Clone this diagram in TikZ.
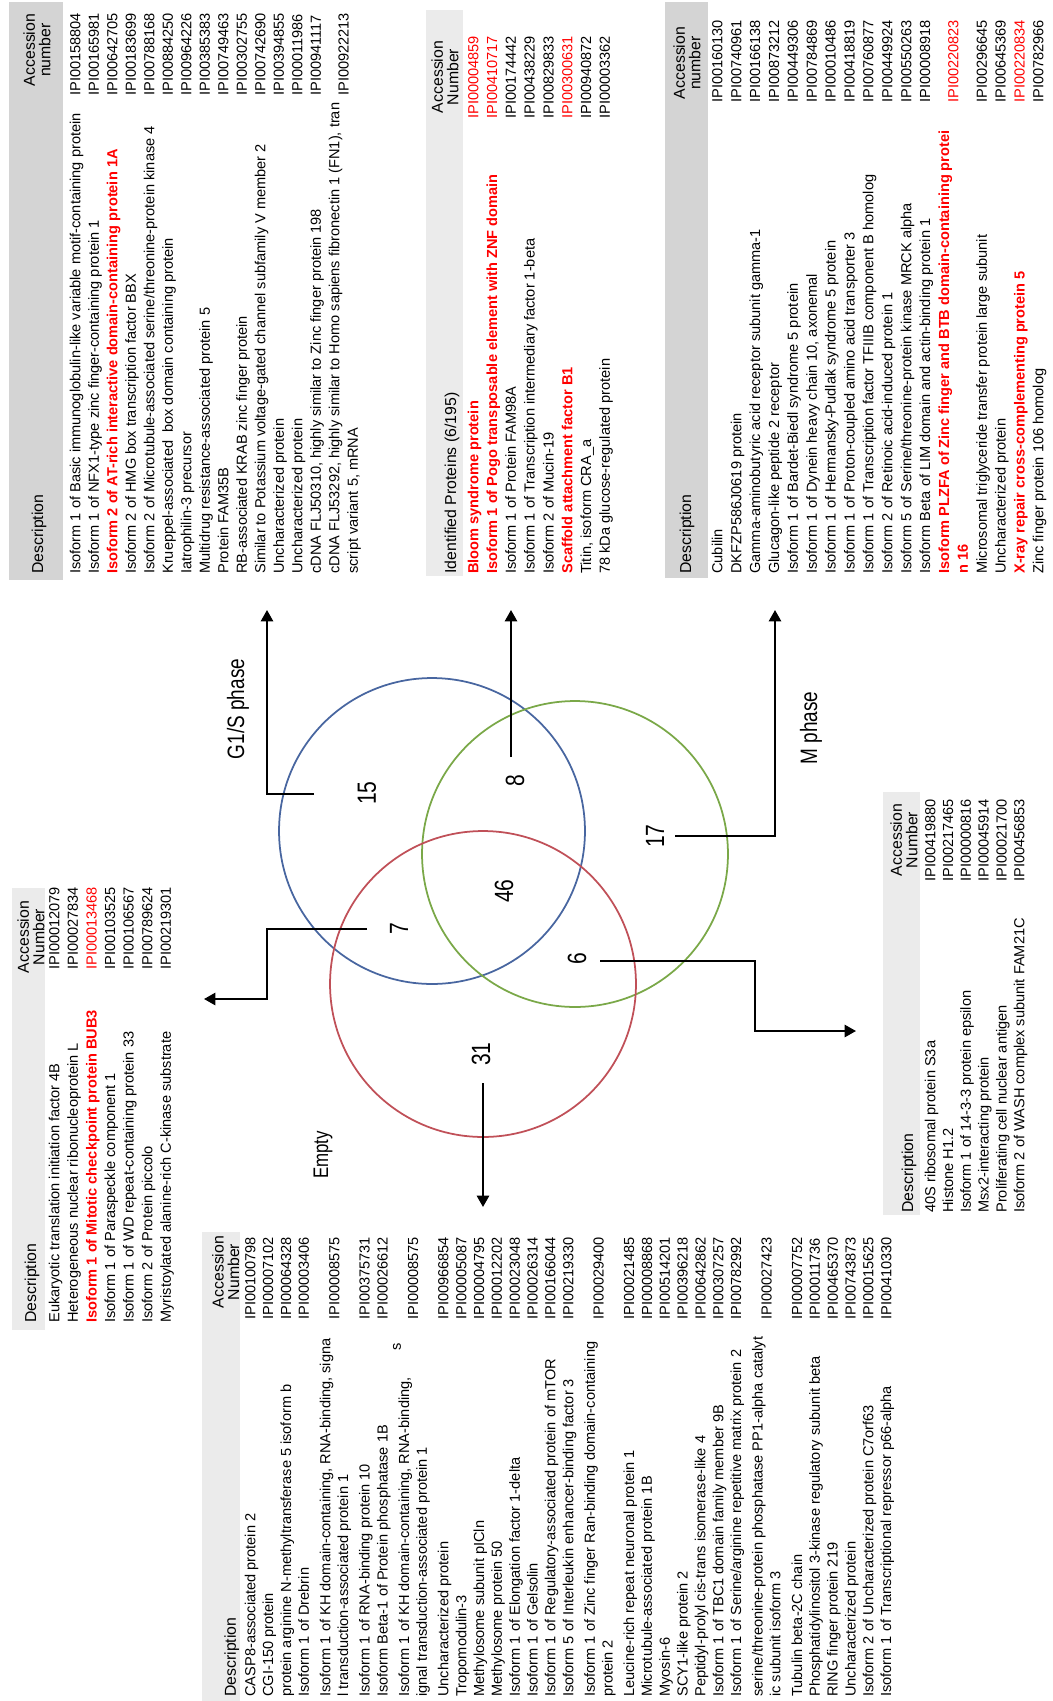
\documentclass[tikz,border=0pt]{standalone}
\usepackage{fontspec}
\setmainfont{Liberation Sans}
\newfontfamily\condfont{Liberation Sans}[FakeStretch=0.8]
\usetikzlibrary{arrows.meta}

\definecolor{hitred}{RGB}{255,0,0}
\definecolor{vennblue}{RGB}{72,102,160}
\definecolor{vennred}{RGB}{192,80,88}
\definecolor{venngreen}{RGB}{122,168,72}

\newcommand{\hit}[1]{\textcolor{hitred}{\bfseries #1}}
\newcommand{\hitnum}[1]{\textcolor{hitred}{#1}}
\newcommand{\rowfont}[1]{\fontsize{8.3pt}{#1}\selectfont}

\begin{document}
\begin{tikzpicture}[x=0.02cm, y=-0.02cm,
    rows/.style={rotate=90, anchor=north west, inner sep=0pt, align=left},
    hdr/.style={rotate=90, inner sep=0pt, align=center, font={\fontsize{9pt}{8.8pt}\selectfont}},
    hdrdesc/.style={rotate=90, anchor=west, inner sep=0pt, font={\fontsize{9pt}{11pt}\selectfont}},
    darkband/.style={fill=black!17},
    liteband/.style={fill=black!8},
    venn/.style={circle, draw, line width=1pt, minimum size=6.12cm, inner sep=0pt},
    vnum/.style={rotate=90, inner sep=1pt, font={\condfont\fontsize{15pt}{15pt}\selectfont}},
    phase/.style={rotate=90, inner sep=1pt, font={\condfont\fontsize{13.5pt}{14pt}\selectfont}},
    conn/.style={line width=1.2pt, -{Triangle[length=6.5pt,width=7pt]}}]
    \useasboundingbox (0,0) rectangle (1053,1701);

    % header bands
    \fill[darkband] (9,2) rectangle (63,580);
    \fill[liteband] (426,10) rectangle (463,576);
    \fill[darkband] (665,2) rectangle (708,578);
    \fill[liteband] (12,888) rectangle (45,1330);
    \fill[liteband] (883,792) rectangle (920,1215);
    \fill[liteband] (202,1232) rectangle (240,1701);

    % G1/S only
    \node[hdr] (accA) at (37,50) {Accession\\number};
    \node[hdrdesc] (hdA) at (39,574) {Description};
    \node[rows, font={\rowfont{10.53pt}}] (descA) at (67,574) {\strut Isoform 1 of Basic immunoglobulin-like variable motif-containing protein\\
        Isoform 1 of NFX1-type zinc finger-containing protein 1\\
        \hit{Isoform 2 of AT-rich interactive domain-containing protein 1A}\\
        Isoform 2 of HMG box transcription factor BBX\\
        Isoform 2 of Microtubule-associated serine/threonine-protein kinase 4\\
        Krueppel-associated\ \ box domain containing protein\\
        Iatrophilin-3 precursor\\
        Multidrug resistance-associated protein 5\\
        Protein FAM35B\\
        RB-associated KRAB zinc finger protein\\
        Similar to Potassium voltage-gated channel subfamily V member 2\\
        Uncharacterized protein\\
        Uncharacterized protein\\
        cDNA FLJ50310, highly similar to Zinc finger protein 198\\
        cDNA FLJ53292, highly similar to Homo sapiens fibronectin 1 (FN1), tran\\
        script variant 5, mRNA};
    \node[rows, font={\rowfont{10.53pt}}] (ipiA) at (67,96) {\strut IPI00158804\\IPI00165981\\IPI00642705\\IPI00183699\\IPI00788168\\
        IPI00884250\\IPI00964226\\IPI00385383\\IPI00749463\\IPI00302755\\IPI00742690\\IPI00394855\\
        IPI00011986\\IPI00941117\\[5.26pt]IPI00922213};

    % G1/S and M
    \node[hdr] (accB) at (445,77) {Accession\\Number};
    \node[hdrdesc] (hdB) at (452,574) {Identified Proteins (6/195)};
    \node[rows, font={\rowfont{10.7pt}}] (descB) at (464.8,574) {\strut\hit{Bloom syndrome protein}\\
        \hit{Isoform 1 of Pogo transposable element with ZNF domain}\\
        Isoform 1 of Protein FAM98A\\
        Isoform 1 of Transcription intermediary factor 1-beta\\
        Isoform 2 of Mucin-19\\
        \hit{Scaffold attachment factor B1}\\
        Titin, isoform CRA\_a\\
        78 kDa glucose-regulated protein};
    \node[rows, font={\rowfont{10.7pt}}] (ipiB) at (464.8,119) {\strut\hitnum{IPI00004859}\\\hitnum{IPI00410717}\\IPI00174442\\
        IPI00438229\\IPI00829833\\\hitnum{IPI00300631}\\IPI00940872\\IPI00003362};

    % M only
    \node[hdr] (accC) at (687,63) {Accession\\number};
    \node[hdrdesc] (hdC) at (687,574) {Description};
    \node[rows, font={\rowfont{10.75pt}}] (descC) at (708.8,574) {\strut Cubilin\\
        DKFZP586J0619 protein\\
        Gamma-aminobutyric acid receptor subunit gamma-1\\
        Glucagon-like peptide 2 receptor\\
        Isoform 1 of Bardet-Biedl syndrome 5 protein\\
        Isoform 1 of Dynein heavy chain 10, axonemal\\
        Isoform 1 of Hermansky-Pudlak syndrome 5 protein\\
        Isoform 1 of Proton-coupled amino acid transporter 3\\
        Isoform 1 of Transcription factor TFIIIB component B homolog\\
        Isoform 2 of Retinoic acid-induced protein 1\\
        Isoform 5 of Serine/threonine-protein kinase MRCK alpha\\
        Isoform Beta of LIM domain and actin-binding protein 1\\
        \hit{Isoform PLZFA of Zinc finger and BTB domain-containing protei}\\
        \hit{n 16}\\
        Microsomal triglyceride transfer protein large subunit\\
        Uncharacterized protein\\
        \hit{X-ray repair cross-complementing protein 5}\\
        Zinc finger protein 106 homolog};
    \node[rows, font={\rowfont{10.75pt}}] (ipiC) at (708.8,103) {\strut IPI00160130\\IPI00740961\\IPI00166138\\IPI00873212\\
        IPI00449306\\IPI00784869\\IPI00010486\\IPI00418819\\IPI00760877\\IPI00449924\\IPI00550263\\
        IPI00008918\\[5.38pt]\hitnum{IPI00220823}\\[5.38pt]IPI00296645\\IPI00645369\\\hitnum{IPI00220834}\\IPI00782966};

    % G1/S and empty
    \node[hdr] (accD) at (31,937) {Accession\\Number};
    \node[hdrdesc] (hdD) at (32,1323) {Description};
    \node[rows, font={\rowfont{10.58pt}}] (descD) at (46,1323) {\strut Eukaryotic translation initiation factor 4B\\
        Heterogeneous nuclear ribonucleoprotein L\\
        \hit{Isoform 1 of Mitotic checkpoint protein BUB3}\\
        Isoform 1 of Paraspeckle component 1\\
        Isoform 1 of WD repeat-containing protein 33\\
        Isoform 2 of Protein piccolo\\
        Myristoylated alanine-rich C-kinase substrate};
    \node[rows, font={\rowfont{10.58pt}}] (ipiD) at (46,970) {\strut IPI00012079\\IPI00027834\\\hitnum{IPI00013468}\\
        IPI00103525\\IPI00106567\\IPI00789624\\IPI00219301};

    % M and empty
    \node[hdr] (accE) at (904,840) {Accession\\Number};
    \node[hdrdesc] (hdE) at (909,1213) {Description};
    \node[rows, font={\rowfont{10.13pt}}] (descE) at (922.5,1213) {\strut 40S ribosomal protein S3a\\
        Histone H1.2\\
        Isoform 1 of 14-3-3 protein epsilon\\
        Msx2-interacting protein\\
        Proliferating cell nuclear antigen\\
        Isoform 2 of WASH complex subunit FAM21C};
    \node[rows, font={\rowfont{10.13pt}}] (ipiE) at (922.5,882) {\strut IPI00419880\\IPI00217465\\IPI00000816\\
        IPI00045914\\IPI00021700\\IPI00456853};

    % empty only
    \node[hdr] (accF) at (225.7,1272) {Accession\\Number};
    \node[hdrdesc] (hdF) at (231.7,1697) {Description};
    \node[rows, font={\rowfont{10.15pt}}] (descF) at (242.5,1697) {\strut CASP8-associated protein 2\\
        CGI-150 protein\\
        protein arginine N-methyltransferase 5 isoform b\\
        Isoform 1 of Drebrin\\[2.1pt]
        Isoform 1 of KH domain-containing, RNA-binding, signa\\
        l transduction-associated protein 1\\[2.1pt]
        Isoform 1 of RNA-binding protein 10\\
        Isoform Beta-1 of Protein phosphatase 1B\\[2.1pt]
        Isoform 1 of KH domain-containing, RNA-binding,\\
        ignal transduction-associated protein 1\\[2.1pt]
        Uncharacterized protein\\
        Tropomodulin-3\\
        Methylosome subunit pICln\\
        Methylosome protein 50\\
        Isoform 1 of Elongation factor 1-delta\\
        Isoform 1 of Gelsolin\\
        Isoform 1 of Regulatory-associated protein of mTOR\\
        Isoform 5 of Interleukin enhancer-binding factor 3\\[2.1pt]
        Isoform 1 of Zinc finger Ran-binding domain-containing\\
        protein 2\\[2.1pt]
        Leucine-rich repeat neuronal protein 1\\
        Microtubule-associated protein 1B\\
        Myosin-6\\
        SCY1-like protein 2\\
        Peptidyl-prolyl cis-trans isomerase-like 4\\
        Isoform 1 of TBC1 domain family member 9B\\
        Isoform 1 of Serine/arginine repetitive matrix protein 2\\[2.1pt]
        serine/threonine-protein phosphatase PP1-alpha catalyt\\
        ic subunit isoform 3\\[2.1pt]
        Tubulin beta-2C chain\\
        Phosphatidylinositol 3-kinase regulatory subunit beta\\
        RING finger protein 219\\
        Uncharacterized protein\\
        Isoform 2 of Uncharacterized protein C7orf63\\
        Isoform 1 of Transcriptional repressor p66-alpha};
    \node[rows, font={\rowfont{10.15pt}}] (ipiF) at (242.5,1320) {\strut IPI00100798\\IPI00007102\\IPI00064328\\
        IPI00003406\\[7.18pt]IPI00008575\\[7.18pt]IPI00375731\\IPI00026612\\[7.18pt]IPI00008575\\[7.18pt]
        IPI00966854\\IPI00005087\\IPI00004795\\IPI00012202\\IPI00023048\\IPI00026314\\IPI00166044\\
        IPI00219330\\[7.18pt]IPI00029400\\[7.18pt]IPI00021485\\IPI00008868\\IPI00514201\\IPI00396218\\
        IPI00642862\\IPI00307257\\IPI00782992\\[7.18pt]IPI00027423\\[7.18pt]IPI00007752\\IPI00011736\\
        IPI00465370\\IPI00743873\\IPI00015625\\IPI00410330};
    \node[rotate=90, inner sep=0pt, font={\rowfont{10.15pt}}] (orphanS) at (397,1347) {s};

    % venn diagram
    \node[venn, draw=vennblue] (setG) at (432,831) {};
    \node[venn, draw=venngreen] (setM) at (575,854) {};
    \node[venn, draw=vennred] (setE) at (483,984) {};

    \node[vnum] (n15) at (367,793) {15};
    \node[vnum] (n8) at (515,781) {8};
    \node[vnum] (n17) at (655,836) {17};
    \node[vnum] (n7) at (399,929) {7};
    \node[vnum] (n46) at (504,891) {46};
    \node[vnum] (n6) at (577,959) {6};
    \node[vnum] (n31) at (481,1054) {31};

    \node[phase] (lblG) at (238,709) {G1/S phase};
    \node[phase] (lblM) at (811,728) {M phase};
    \node[phase, font={\condfont\fontsize{12pt}{14pt}\selectfont}] (lblE) at (323,1155) {Empty};

    % arrows to the tables
    \coordinate (s15) at (314,794);
    \coordinate (t15) at (267,610);
    \coordinate (s8) at (511,757);
    \coordinate (t8) at (511,610);
    \coordinate (s17) at (675,836);
    \coordinate (t17) at (775,610);
    \coordinate (s7) at (367,929);
    \coordinate (k7) at (267,999);
    \coordinate (t7) at (204,999);
    \coordinate (s6) at (600,961);
    \coordinate (k6) at (755,1031);
    \coordinate (t6) at (856,1031);
    \coordinate (s31) at (483,1083);
    \coordinate (t31) at (483,1207);

    \draw[conn] (s15) -| (t15);
    \draw[conn] (s8) -- (t8);
    \draw[conn] (s17) -| (t17);
    \draw[conn] (s7) -| (k7) -- (t7);
    \draw[conn] (s6) -| (k6) -- (t6);
    \draw[conn] (s31) -- (t31);
\end{tikzpicture}
\end{document}
